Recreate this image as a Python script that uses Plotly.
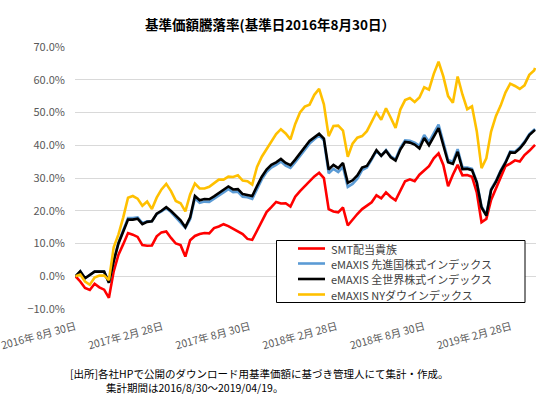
import plotly.graph_objects as go

# ---------------- data ----------------
dates = [
    "2016-08-30", "2016-09-09", "2016-09-19", "2016-09-29", "2016-10-09", "2016-10-19",
    "2016-10-29", "2016-11-08", "2016-11-18", "2016-11-28", "2016-12-08", "2016-12-18",
    "2016-12-28", "2017-01-07", "2017-01-17", "2017-01-27", "2017-02-06", "2017-02-16",
    "2017-02-26", "2017-03-08", "2017-03-18", "2017-03-28", "2017-04-07", "2017-04-17",
    "2017-04-27", "2017-05-07", "2017-05-17", "2017-05-27", "2017-06-06", "2017-06-16",
    "2017-06-26", "2017-07-06", "2017-07-16", "2017-07-26", "2017-08-05", "2017-08-15",
    "2017-08-25", "2017-09-04", "2017-09-14", "2017-09-24", "2017-10-04", "2017-10-14",
    "2017-10-24", "2017-11-03", "2017-11-13", "2017-11-23", "2017-12-03", "2017-12-13",
    "2017-12-23", "2018-01-02", "2018-01-12", "2018-01-22", "2018-02-01", "2018-02-11",
    "2018-02-21", "2018-03-03", "2018-03-13", "2018-03-23", "2018-04-02", "2018-04-12",
    "2018-04-22", "2018-05-02", "2018-05-12", "2018-05-22", "2018-06-01", "2018-06-11",
    "2018-06-21", "2018-07-01", "2018-07-11", "2018-07-21", "2018-07-31", "2018-08-10",
    "2018-08-20", "2018-08-30", "2018-09-09", "2018-09-19", "2018-09-29", "2018-10-09",
    "2018-10-19", "2018-10-29", "2018-11-08", "2018-11-18", "2018-11-28", "2018-12-08",
    "2018-12-18", "2018-12-28", "2019-01-07", "2019-01-17", "2019-01-27", "2019-02-06",
    "2019-02-16", "2019-02-26", "2019-03-08", "2019-03-18", "2019-03-28", "2019-04-07",
    "2019-04-17", "2019-04-19",
]

# returns in percent
smt_dividend = [
    0.0, -1.6, -3.6, -4.2, -2.3, -3.4, -4.1, -6.6, 1.5, 6.6, 9.8, 13.2,
    12.7, 12.0, 9.5, 9.3, 9.4, 12.2, 13.4, 13.7, 11.7, 10.0, 9.5, 6.0,
    11.0, 12.3, 12.9, 13.2, 13.1, 14.7, 15.2, 15.9, 15.3, 14.5, 13.7, 12.9,
    11.4, 11.1, 13.9, 17.0, 19.6, 21.1, 22.7, 22.2, 22.3, 21.3, 24.3, 26.0,
    27.5, 29.0, 30.5, 31.6, 30.0, 20.5, 19.8, 19.5, 21.0, 15.5, 17.3, 19.0,
    20.5, 21.5, 22.6, 24.7, 23.8, 25.6, 24.2, 23.2, 26.0, 29.0, 29.6, 29.0,
    31.0, 32.4, 33.6, 36.0, 37.5, 34.0, 27.5, 31.0, 34.0, 30.8, 30.9, 30.4,
    25.6, 16.5, 17.5, 23.3, 26.8, 30.6, 33.6, 34.4, 35.4, 35.0, 37.0, 38.3,
    39.8, 40.1,
]

emaxis_developed = [
    0.0, 1.5, -0.6, 0.4, 1.4, 1.4, 1.4, -2.0, 4.8, 10.3, 14.1, 17.8,
    17.8, 18.0, 16.2, 16.8, 16.8, 19.0, 19.8, 20.8, 19.6, 18.0, 16.7, 14.8,
    17.4, 23.8, 22.4, 22.8, 22.7, 23.6, 24.6, 25.6, 26.6, 25.7, 25.8, 24.3,
    24.1, 23.6, 26.6, 29.6, 31.8, 33.2, 34.0, 35.0, 33.8, 33.1, 34.8, 36.7,
    38.3, 40.5, 41.8, 43.0, 41.5, 31.4, 32.8, 31.8, 33.4, 27.3, 28.2, 29.8,
    32.4, 33.2, 35.6, 38.3, 36.8, 38.5, 36.6, 35.7, 39.2, 41.5, 41.4, 40.8,
    39.8, 43.1, 41.0, 43.8, 46.3, 41.0, 35.5, 35.0, 38.8, 33.3, 33.2, 32.8,
    28.9, 21.3, 18.8, 26.6, 29.1, 32.3, 34.9, 38.1, 38.0, 39.3, 41.1, 43.4,
    44.7, 45.0,
]

emaxis_allworld = [
    0.0, 1.5, -0.6, 0.4, 1.4, 1.4, 1.4, -2.0, 4.6, 10.0, 13.7, 17.3,
    17.3, 17.6, 15.9, 16.6, 16.8, 19.1, 20.0, 21.1, 19.9, 18.4, 17.1, 15.0,
    18.0, 24.5, 23.2, 23.6, 23.5, 24.4, 25.4, 26.4, 27.4, 26.5, 26.6, 25.1,
    24.9, 24.5, 27.5, 30.4, 32.6, 34.0, 34.8, 35.8, 34.6, 33.9, 35.6, 37.5,
    39.1, 41.3, 42.4, 43.5, 42.0, 32.6, 34.0, 33.0, 34.6, 28.5, 29.3, 30.8,
    33.2, 33.7, 36.0, 38.5, 36.8, 38.3, 36.3, 35.3, 38.7, 41.0, 40.8, 40.2,
    39.0, 42.2, 40.0, 42.8, 45.2, 40.0, 34.8, 34.3, 38.0, 32.7, 32.8, 32.4,
    28.6, 21.0, 18.5, 26.3, 28.8, 32.0, 34.6, 37.8, 37.7, 39.0, 40.8, 43.1,
    44.4, 44.7,
]

emaxis_nydow = [
    0.0, 0.5, -1.6, -2.6, -0.4, 0.2, 0.2, -1.2, 8.8, 12.8, 18.0, 24.0,
    24.5, 23.7, 21.5, 22.8, 20.5, 24.0, 26.5, 28.2, 26.0, 23.0, 22.3, 19.8,
    25.0, 28.3, 26.8, 26.8, 27.3, 28.4, 29.5, 29.5, 30.4, 30.3, 30.8, 29.2,
    29.0, 28.0, 33.4, 36.5, 38.8, 40.8, 43.4, 44.9, 43.6, 41.8, 46.5, 50.0,
    51.8, 52.4, 55.4, 57.2, 52.5, 42.8, 45.9, 46.0, 44.5, 36.5, 40.5, 42.3,
    42.8, 44.3, 47.3, 50.0, 47.8, 51.3, 48.4, 45.3, 50.9, 53.8, 54.4, 53.2,
    54.6, 57.7, 57.0, 61.8, 65.5, 61.0, 55.0, 53.0, 61.0, 55.5, 51.0, 51.9,
    44.3, 33.0, 36.0, 44.2, 48.9, 52.1, 56.1, 58.8, 58.1, 57.2, 58.3, 61.5,
    62.8, 63.6,
]

series_names = [
    "SMT配当貴族",
    "eMAXIS 先進国株式インデックス",
    "eMAXIS 全世界株式インデックス",
    "eMAXIS NYダウインデックス",
]
series_values = [smt_dividend, emaxis_developed, emaxis_allworld, emaxis_nydow]
series_colors = ["#FF0000", "#5B9BD5", "#000000", "#FFC000"]

tick_dates = ["2016-08-30", "2017-02-28", "2017-08-30", "2018-02-28", "2018-08-30", "2019-02-28"]
tick_labels = ["2016年 8月 30日", "2017年 2月 28日", "2017年 8月 30日",
               "2018年 2月 28日", "2018年 8月 30日", "2019年 2月 28日"]
y_ticks = [-0.1, 0.0, 0.1, 0.2, 0.3, 0.4, 0.5, 0.6, 0.7]

title_text = "<b>基準価額騰落率(基準日2016年8月30日）</b>"
note_line1 = "[出所]各社HPで公開のダウンロード用基準価額に基づき管理人にて集計・作成。"
note_line2 = "集計期間は2016/8/30～2019/04/19。"

# ---------------- layout constants ----------------
W, H = 551, 399
ML, MR, MT, MB = 75, 15, 47, 90
PW, PH = W - ML - MR, H - MT - MB
FONT = "Noto Sans CJK JP, Noto Sans, sans-serif"


def px_x(x):
    return (x - ML) / PW


def px_y(y):
    return (H - MB - y) / PH


fig = go.Figure()
for name, vals, col in zip(series_names, series_values, series_colors):
    fig.add_trace(go.Scatter(
        x=dates, y=[v / 100 for v in vals], mode="lines", name=name,
        line=dict(color=col, width=2.6), hoverinfo="skip", showlegend=False,
    ))

fig.update_layout(
    width=W, height=H,
    margin=dict(l=ML, r=MR, t=MT, b=MB, pad=0, autoexpand=False),
    paper_bgcolor="white", plot_bgcolor="white",
    font=dict(family=FONT, size=11, color="#595959"),
    title=dict(text=title_text, x=0.49, xref="container", xanchor="center",
               y=1 - 25 / H, yref="container", yanchor="middle",
               font=dict(family=FONT, size=13.5, color="#000000")),
    showlegend=False,
    xaxis=dict(type="date", range=["2016-08-29", "2019-04-21"],
               tickvals=tick_dates, ticktext=tick_labels, tickangle=-15,
               showgrid=False, zeroline=False, showline=False, ticks="",
               ticklabelstandoff=9, automargin=False, ticklabeloverflow="allow",
               tickfont=dict(family=FONT, size=10.5, color="#595959")),
    xaxis2=dict(type="date", overlaying="x", matches="x", anchor="free",
                position=px_y(276), side="bottom", automargin=False,
                tickvals=tick_dates, showticklabels=False, showgrid=False,
                zeroline=False, showline=True, linecolor="#d9d9d9", linewidth=1,
                ticks="outside", ticklen=4, tickcolor="#d9d9d9"),
    yaxis=dict(range=[-0.1, 0.7], tickvals=y_ticks, tickformat=".1%",
               showgrid=True, gridcolor="#d9d9d9", gridwidth=1,
               zeroline=False, showline=False, ticks="", automargin=False,
               ticklabelstandoff=9,
               tickfont=dict(family=FONT, size=11, color="#595959")),
)

# legend box (drawn over the plot like the reference's opaque legend)
fig.add_shape(type="rect", xref="paper", yref="paper",
              x0=px_x(276.5), x1=px_x(525), y0=px_y(302.5), y1=px_y(240.5),
              line=dict(color="#000000", width=1), fillcolor="white", layer="above")
legend_rows_y = [248.5, 263.5, 279, 294.5]
for name, col, ry in zip(series_names, series_colors, legend_rows_y):
    fig.add_shape(type="line", xref="paper", yref="paper",
                  x0=px_x(298), x1=px_x(325), y0=px_y(ry), y1=px_y(ry),
                  line=dict(color=col, width=2.6), layer="above")
    fig.add_annotation(text=name, xref="paper", yref="paper",
                       x=px_x(329), y=px_y(ry), xanchor="left", yanchor="middle",
                       showarrow=False,
                       font=dict(family=FONT, size=11, color="#404040"))

fig.add_annotation(text=note_line1, xref="paper", yref="paper",
                   x=px_x(68), y=px_y(373), xanchor="left", yanchor="middle",
                   showarrow=False, font=dict(family=FONT, size=10.5, color="#000000"))
fig.add_annotation(text=note_line2, xref="paper", yref="paper",
                   x=px_x(104), y=px_y(387.5), xanchor="left", yanchor="middle",
                   showarrow=False, font=dict(family=FONT, size=10.5, color="#000000"))

post_js = (
    "document.body.style.margin='0';document.body.style.padding='0';"
    "var gd=document.querySelector('.plotly-graph-div');"
    "if(gd){gd.style.outline='1px solid #d9d9d9';gd.style.outlineOffset='-1px';"
    "gd.style.borderRadius='4px';}"
)
fig.write_html("out.html", config={"displayModeBar": False}, post_script=post_js)
